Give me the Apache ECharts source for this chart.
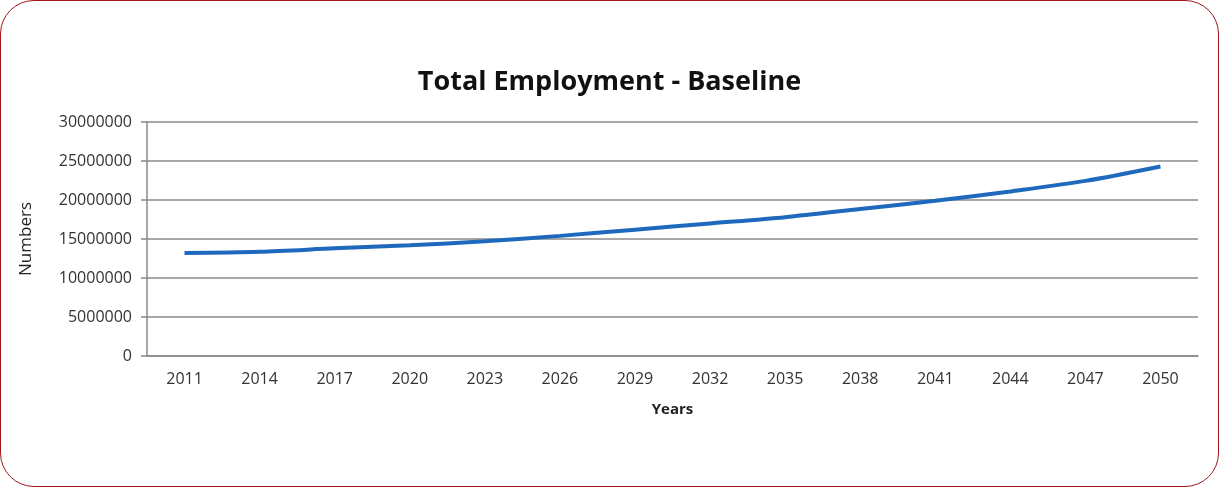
<!DOCTYPE html>
<html>
<head>
<meta charset="utf-8">
<script src="https://cdn.jsdelivr.net/npm/echarts@6/dist/echarts.min.js"></script>
<style>
  html, body { margin: 0; padding: 0; background: #fff; }
  #frame {
    position: absolute; left: 0; top: 0;
    width: 1219px; height: 487px;
    box-sizing: border-box;
    border: 1.5px solid #a3161a;
    border-radius: 34px;
  }
  #chart { position: absolute; left: 0; top: 0; width: 1219px; height: 487px; }
</style>
</head>
<body>
<div id="frame"></div>
<div id="chart"></div>
<script>
// years shown on the x axis
var years = ['2011', '2014', '2017', '2020', '2023', '2026', '2029',
             '2032', '2035', '2038', '2041', '2044', '2047', '2050'];
// total employment, baseline scenario
var employment = [13200000, 13360000, 13800000, 14200000, 14700000, 15400000, 16200000,
                  17000000, 17800000, 18850000, 19900000, 21100000, 22450000, 24300000];

var axisGrey = '#8a8a8a';
var fontFam = '"Open Sans", "Noto Sans", sans-serif';

echarts.init(document.getElementById('chart')).setOption({
    animation: false,
    title: {
        text: 'Total Employment - Baseline',
        left: 'center',
        top: 64,
        textStyle: {
            color: '#111',
            fontSize: 27,
            fontWeight: 'bold',
            fontFamily: fontFam
        }
    },
    grid: {
        left: 147,
        right: 21,
        top: 122,
        bottom: 131
    },
    xAxis: {
        type: 'category',
        data: years,
        name: 'Years',
        nameLocation: 'middle',
        nameGap: 46,
        nameTextStyle: {
            color: '#222',
            fontSize: 15,
            fontWeight: 'bold',
            fontFamily: fontFam
        },
        axisLine: { lineStyle: { color: axisGrey, width: 1.5 } },
        axisTick: { length: 6, lineStyle: { color: axisGrey, width: 1.5 } },
        axisLabel: {
            color: '#333',
            fontSize: 16,
            margin: 15,
            fontFamily: fontFam
        }
    },
    yAxis: {
        type: 'value',
        min: 0,
        max: 30000000,
        interval: 5000000,
        name: 'Numbers',
        nameLocation: 'middle',
        nameGap: 112,
        nameRotate: 90,
        nameTextStyle: {
            color: '#222',
            fontSize: 17,
            fontFamily: fontFam
        },
        axisLine: { show: true, lineStyle: { color: axisGrey, width: 1.5 } },
        axisTick: { show: true, length: 6, lineStyle: { color: axisGrey, width: 1.5 } },
        splitLine: { lineStyle: { color: axisGrey, width: 1.5 } },
        axisLabel: {
            color: '#333',
            fontSize: 16,
            margin: 15,
            fontFamily: fontFam,
            formatter: function (v) { return String(v); }
        }
    },
    series: [
        {
            type: 'line',
            name: 'Total Employment',
            data: employment,
            smooth: 0.3,
            symbol: 'none',
            lineStyle: { color: '#1f69bd', width: 4 }
        }
    ]
});
</script>
</body>
</html>
